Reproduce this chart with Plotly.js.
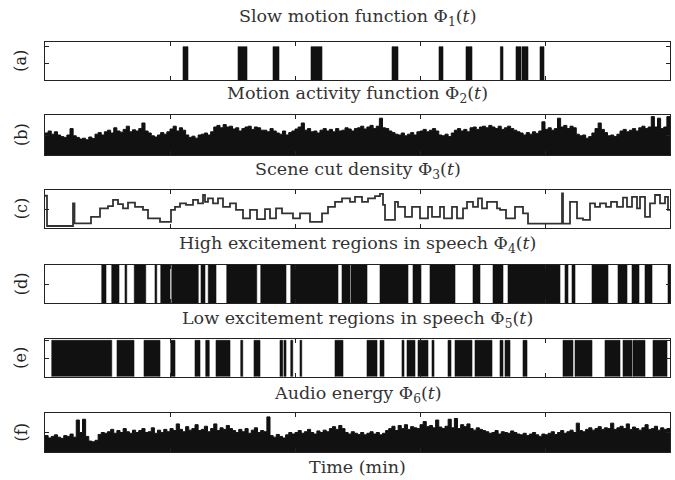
<!DOCTYPE html>
<html><head><meta charset="utf-8">
<script src="https://cdn.plot.ly/plotly-3.0.1.min.js"></script>
<style>html,body{margin:0;padding:0;background:#fff}#chart{width:675px;height:480px}</style>
</head><body><div id="chart"></div>
<script>
const panelLabels = ['(a)','(b)','(c)','(d)','(e)','(f)'];
const panelTitles = [
  'Slow motion function Φ<sub>1</sub>(<i>t</i>)',
  'Motion activity function Φ<sub>2</sub>(<i>t</i>)',
  'Scene cut density Φ<sub>3</sub>(<i>t</i>)',
  'High excitement regions in speech Φ<sub>4</sub>(<i>t</i>)',
  'Low excitement regions in speech Φ<sub>5</sub>(<i>t</i>)',
  'Audio energy Φ<sub>6</sub>(<i>t</i>)'
];
const xAxisTitle = 'Time (min)';
const xTickVals = [10,20,30,40];
const yTickVals = [0.5,1];
const timeMax = 50;

// (a) slow motion intervals (min)
const slowStart = [11.04,15.44,18.24,21.28,27.76,31.52,33.68,36.43,37.68,38.16,39.6];
const slowEnd   = [11.44,16.16,18.72,22.16,28.24,31.84,34.16,36.64,38.08,38.64,39.92];

// (b) motion activity, sampled every 0.25 min
const motionStep = 0.25;
const motionActivity = [
 0.55,0.6,0.52,0.58,0.5,0.46,0.44,0.5,0.66,0.48,
 0.44,0.4,0.42,0.38,0.45,0.41,0.52,0.56,0.5,0.58,
 0.62,0.55,0.68,0.6,0.57,0.64,0.72,0.58,0.63,0.6,
 0.66,0.8,0.6,0.55,0.48,0.45,0.5,0.56,0.52,0.58,
 0.65,0.72,0.6,0.68,0.62,0.5,0.44,0.47,0.42,0.5,
 0.52,0.55,0.5,0.58,0.7,0.74,0.68,0.76,0.7,0.72,
 0.65,0.68,0.6,0.66,0.7,0.72,0.64,0.7,0.68,0.62,
 0.62,0.58,0.66,0.6,0.55,0.52,0.6,0.5,0.56,0.6,
 0.65,0.7,0.8,0.62,0.66,0.58,0.6,0.55,0.62,0.66,
 0.6,0.64,0.58,0.66,0.6,0.62,0.68,0.65,0.6,0.66,
 0.68,0.72,0.65,0.7,0.74,0.66,0.72,0.92,0.68,0.66,
 0.6,0.56,0.52,0.5,0.55,0.48,0.52,0.56,0.5,0.58,
 0.6,0.64,0.58,0.62,0.66,0.6,0.5,0.48,0.52,0.46,
 0.55,0.62,0.66,0.6,0.64,0.58,0.68,0.7,0.64,0.7,
 0.72,0.68,0.74,0.7,0.66,0.72,0.64,0.68,0.72,0.66,
 0.62,0.58,0.55,0.5,0.56,0.52,0.58,0.54,0.6,0.83,
 0.64,0.68,0.62,0.66,0.92,0.7,0.74,0.66,0.72,0.68,
 0.52,0.48,0.5,0.42,0.46,0.55,0.66,0.8,0.64,0.56,
 0.48,0.5,0.46,0.52,0.6,0.64,0.58,0.62,0.66,0.6,
 0.68,0.72,0.66,0.7,0.96,0.7,0.92,0.66,0.7,0.96
];

// (c) scene cut density: step start times (min) and levels
const sceneTime = [0,0.16,2.24,2.36,3.68,4.4,5.04,5.44,5.84,6.24,6.64,7.2,7.84,8.24,9.2,10.08,10.4,10.8,11.28,11.84,12.24,12.64,12.8,13.04,13.44,13.84,14.24,14.8,15.28,15.84,16.4,16.96,17.6,18.0,18.48,18.96,19.84,20.4,21.2,22.16,22.64,23.2,23.76,24.4,24.8,25.36,25.84,26.4,26.8,27.04,27.2,28.0,28.24,28.8,29.36,30.0,30.64,30.96,31.6,31.92,32.56,32.96,33.44,33.76,34.24,34.64,34.96,35.36,36.16,36.4,36.88,37.6,38.24,38.64,41.36,41.44,42.0,42.56,43.04,43.6,44.0,44.4,44.88,45.28,45.76,46.24,46.56,46.96,47.36,47.6,48.0,48.4,48.8,49.2,49.6,49.84];
const sceneDensity = [0.85,0.06,0.65,0.13,0.30,0.52,0.58,0.74,0.63,0.52,0.67,0.56,0.48,0.26,0.17,0.48,0.56,0.65,0.61,0.74,0.65,0.87,0.69,0.78,0.65,0.78,0.56,0.65,0.48,0.26,0.48,0.24,0.50,0.26,0.52,0.39,0.26,0.39,0.17,0.39,0.56,0.69,0.78,0.69,0.82,0.69,0.78,0.84,0.90,0.61,0.22,0.69,0.56,0.30,0.56,0.26,0.56,0.30,0.56,0.26,0.56,0.26,0.52,0.69,0.56,0.78,0.52,0.69,0.52,0.48,0.26,0.56,0.39,0.12,0.91,0.12,0.69,0.26,0.22,0.65,0.56,0.65,0.56,0.69,0.56,0.80,0.56,0.82,0.52,0.82,0.30,0.65,0.87,0.65,0.82,0.48];

// (d) high excitement intervals (min)
const highStart = [4.54,5.34,6.4,7.14,8.8,9.26,10.14,12.48,13.06,14.54,17.26,19.66,23.76,24.48,26.8,29.44,30.8,34.24,35.84,37.04,41.6,42.16,43.76,45.84,46.96,48.0,49.84];
const highEnd   = [4.88,5.92,6.54,8.06,8.94,10.0,12.26,12.8,13.68,16.94,19.28,23.44,24.4,25.76,29.04,30.08,32.8,34.8,36.64,41.2,41.84,42.4,45.04,46.56,47.52,48.56,50];

// (e) low excitement intervals (min)
const lowStart = [0.54,5.76,7.92,10.06,12.0,12.86,13.68,15.66,16.72,18.8,19.12,19.66,20.4,23.2,25.76,26.8,28.56,28.96,29.84,30.96,32.24,32.8,34.4,36.4,36.8,38.24,41.44,42.4,44.8,46.24,47.04,48.64];
const lowEnd   = [5.34,7.12,9.2,10.4,12.4,13.14,14.8,15.82,17.2,19.02,19.28,19.82,20.54,23.84,26.56,27.12,28.72,29.6,30.64,31.12,32.48,34.16,35.76,36.64,37.2,38.56,42.24,43.76,46.0,46.96,48.0,49.76];

// (f) audio energy, sampled every 0.25 min
const audioStep = 0.25;
const audioEnergy = [
 0.42,0.36,0.4,0.44,0.38,0.35,0.42,0.4,0.46,0.38,
 0.82,0.5,0.84,0.4,0.28,0.26,0.3,0.45,0.5,0.48,
 0.52,0.58,0.48,0.55,0.5,0.6,0.52,0.48,0.56,0.5,
 0.55,0.6,0.5,0.52,0.62,0.48,0.56,0.5,0.58,0.52,
 0.6,0.55,0.72,0.58,0.52,0.65,0.56,0.6,0.7,0.55,
 0.58,0.66,0.52,0.6,0.72,0.55,0.62,0.58,0.68,0.6,
 0.55,0.5,0.58,0.52,0.6,0.48,0.56,0.62,0.5,0.55,
 0.52,0.9,0.42,0.38,0.45,0.4,0.36,0.44,0.5,0.46,
 0.5,0.55,0.48,0.52,0.58,0.5,0.46,0.54,0.5,0.56,
 0.52,0.6,0.65,0.58,0.68,0.6,0.5,0.46,0.52,0.48,
 0.45,0.5,0.44,0.48,0.52,0.46,0.5,0.44,0.48,0.55,
 0.6,0.66,0.55,0.68,0.6,0.7,0.58,0.65,0.62,0.6,
 0.7,0.78,0.65,0.68,0.62,0.82,0.64,0.6,0.66,0.84,
 0.62,0.86,0.6,0.7,0.65,0.72,0.6,0.56,0.62,0.58,
 0.55,0.52,0.48,0.5,0.55,0.46,0.52,0.5,0.48,0.54,
 0.5,0.46,0.44,0.48,0.42,0.46,0.5,0.44,0.4,0.46,
 0.44,0.48,0.52,0.45,0.5,0.55,0.48,0.52,0.56,0.5,
 0.74,0.55,0.52,0.58,0.62,0.56,0.6,0.65,0.58,0.62,
 0.6,0.74,0.58,0.62,0.66,0.6,0.72,0.58,0.64,0.6,
 0.56,0.62,0.7,0.58,0.6,0.66,0.56,0.62,0.58,0.6
];

// ---------- builders ----------
function ax(i){ return i>1 ? String(i) : ''; }
function intervalsTrace(starts, ends, axisIdx){
  const x=[], y=[];
  for(let i=0;i<starts.length;i++){
    x.push(starts[i],starts[i],ends[i],ends[i],null);
    y.push(0,1,1,0,null);
  }
  return {x, y, type:'scatter', mode:'lines', fill:'toself', fillcolor:'#111',
    line:{color:'#111', width:0.6}, xaxis:'x'+ax(axisIdx), yaxis:'y'+ax(axisIdx),
    hoverinfo:'skip', showlegend:false};
}
function stepFillTrace(vals, step, axisIdx){
  const x = vals.map((v,i)=>i*step); x.push(vals.length*step);
  const y = vals.slice(); y.push(vals[vals.length-1]);
  return {x, y, type:'scatter', mode:'lines', line:{shape:'hv', color:'#111', width:1},
    fill:'tozeroy', fillcolor:'#111', xaxis:'x'+ax(axisIdx), yaxis:'y'+ax(axisIdx),
    hoverinfo:'skip', showlegend:false};
}
function stepLineTrace(times, vals, axisIdx){
  const x = times.slice(); x.push(timeMax);
  const y = vals.slice(); y.push(vals[vals.length-1]);
  return {x, y, type:'scatter', mode:'lines', line:{shape:'hv', color:'#333', width:1.8},
    xaxis:'x'+ax(axisIdx), yaxis:'y'+ax(axisIdx), hoverinfo:'skip', showlegend:false};
}

const traces = [
  intervalsTrace(slowStart, slowEnd, 1),
  stepFillTrace(motionActivity, motionStep, 2),
  stepLineTrace(sceneTime, sceneDensity, 3),
  intervalsTrace(highStart, highEnd, 4),
  intervalsTrace(lowStart, lowEnd, 5),
  stepFillTrace(audioEnergy, audioStep, 6)
];

const W=675, H=480;
const boxesPx = [[41.7,80],[115,155],[190,228.3],[265,303.3],[338.5,376.8],[413,452]];
const titleYPx = [18,95,170,244,319,394];
const yRanges = [[0,1.15],[0,1.0],[0,1.0],[0,1.0],[0,1.05],[0,1.0]];
const xDomain = [45/W, 670/W];
const serif = 'DejaVu Serif, Liberation Serif, serif';

const layout = {width:W, height:H, margin:{l:0,r:0,t:0,b:0}, paper_bgcolor:'#fff', plot_bgcolor:'#fff',
  showlegend:false, annotations:[], font:{family:serif, color:'#222'}};

boxesPx.forEach((b,i)=>{
  const k = ax(i+1);
  layout['xaxis'+k] = {domain:xDomain, range:[0,timeMax], anchor:'y'+k, showticklabels:false,
    tickvals:xTickVals, ticks:'inside', ticklen:4, tickcolor:'#222', showline:true, linecolor:'#222',
    linewidth:1.4, mirror:'ticks', showgrid:false, zeroline:false};
  layout['yaxis'+k] = {domain:[1-b[1]/H, 1-b[0]/H], range:yRanges[i], anchor:'x'+k, showticklabels:false,
    tickvals:yTickVals, ticks:'inside', ticklen:4, tickcolor:'#222', showline:true, linecolor:'#222',
    linewidth:1.4, mirror:'ticks', showgrid:false, zeroline:false};
  layout.annotations.push({text:panelTitles[i], xref:'paper', yref:'paper', x:357.5/W, y:1-titleYPx[i]/H,
    xanchor:'center', yanchor:'middle', showarrow:false, font:{family:serif, size:17.5, color:'#333'}});
  layout.annotations.push({text:panelLabels[i], xref:'paper', yref:'paper', x:21/W, y:1-(b[0]+b[1])/2/H,
    xanchor:'center', yanchor:'middle', textangle:-90, showarrow:false, font:{family:serif, size:16, color:'#222'}});
});
layout.annotations.push({text:xAxisTitle, xref:'paper', yref:'paper', x:357.5/W, y:1-467/H,
  xanchor:'center', yanchor:'middle', showarrow:false, font:{family:serif, size:17.5, color:'#333'}});

Plotly.newPlot('chart', traces, layout, {displayModeBar:false}).then(gd=>{
  // drop the empty axis-title placeholders Plotly leaves behind
  gd.querySelectorAll('.g-xtitle, .g-ytitle').forEach(g=>{
    if(!g.textContent.trim()) g.remove();
  });
});
</script>
</body></html>
